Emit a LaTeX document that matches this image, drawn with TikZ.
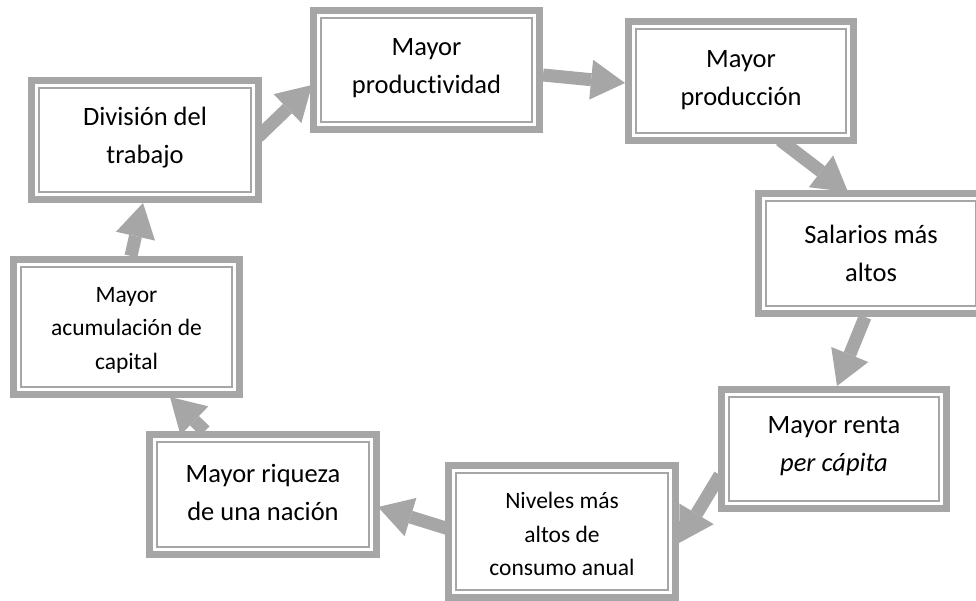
\documentclass[tikz,border=0pt]{standalone}
\usepackage{fontspec}
\setmainfont{Carlito}[RawFeature=-liga]
\usetikzlibrary{arrows.meta,calc}
\definecolor{framegray}{HTML}{A6A6A6}
\tikzset{
  frame/.style={rectangle, draw=framegray, line width=7pt, fill=white, outer sep=3.5pt, inner sep=0pt},
  innerframe/.style={draw=framegray, line width=2pt},
  conn/.style={draw=framegray, line width=13pt, -{Triangle[length=34pt,width=40pt,line width=0pt]}},
  bigtext/.style={font=\fontsize{26.5}{38}\selectfont, align=center, inner sep=0pt},
  smalltext/.style={font=\fontsize{23.5}{33.5}\selectfont, align=center, inner sep=0pt}
}
\begin{document}
\begin{tikzpicture}[x=1pt, y=-1pt]
\useasboundingbox (0,0) rectangle (976,601);
% box centres (px)
\coordinate (c1) at (145,140);
\coordinate (c2) at (426.5,70);
\coordinate (c3) at (741,81);
\coordinate (c4) at (871,253.5);
\coordinate (c5) at (834,449);
\coordinate (c6) at (562,531.5);
\coordinate (c7) at (263,494.5);
\coordinate (c8) at (126.5,327);
% reference nodes for connectors
\node[frame, draw=none, fill=none, minimum width=227pt, minimum height=119pt] (b1) at (c1) {};
\node[frame, draw=none, fill=none, minimum width=226pt, minimum height=119pt] (b2) at (c2) {};
\node[frame, draw=none, fill=none, minimum width=225pt, minimum height=119pt] (b3) at (c3) {};
\node[frame, draw=none, fill=none, minimum width=225pt, minimum height=120pt] (b4) at (c4) {};
\node[frame, draw=none, fill=none, minimum width=225pt, minimum height=119pt] (b5) at (c5) {};
\node[frame, draw=none, fill=none, minimum width=227pt, minimum height=132pt] (b6) at (c6) {};
\node[frame, draw=none, fill=none, minimum width=227pt, minimum height=120pt] (b7) at (c7) {};
\node[frame, draw=none, fill=none, minimum width=226pt, minimum height=135pt] (b8) at (c8) {};
% connectors
\draw[conn] ([shift={(-4,-3)}]b1.east) -- ([shift={(2,15)}]b2.west);
\draw[conn] ([shift={(0,5)}]b2.east) -- ([shift={(0,2)}]b3.west);
\draw[conn] ([shift={(39,-4)}]b3.south) -- ([shift={(-23,2)}]b4.north);
\draw[conn] ([shift={(-6,0)}]b4.south) -- ([shift={(3,0)}]b5.north);
\draw[conn] ([shift={(2,26)}]b5.west) -- ([shift={(0,11.5)}]b6.east);
\draw[conn] ([shift={(4,-2.5)}]b6.west) -- ([shift={(-2,12.5)}]b7.east);
\draw[conn] ([shift={(-58,0)}]b7.north) -- ([shift={(43.5,-1)}]b8.south);
\draw[conn] ([shift={(4.5,0)}]b8.north) -- ([shift={(-2,0)}]b1.south);
% visible frames
\foreach \n/\w/\h in {b1/227/119, b2/226/119, b3/225/119, b4/225/120, b5/225/119, b6/227/132, b7/227/120, b8/226/135}{
  \node[frame, minimum width=\w pt, minimum height=\h pt] at (\n.center) {};
  \draw[innerframe] ([shift={(11,11)}]\n.north west) rectangle ([shift={(-11,-11)}]\n.south east);
}
% texts
\node[bigtext] (t1) at ($(c1)+(0,-2)$) {División del\\trabajo};
\node[bigtext] (t2) at ($(c2)+(0,-2)$) {Mayor\\productividad};
\node[bigtext] (t3) at ($(c3)+(0,-1)$) {Mayor\\producción};
\node[bigtext] (t4) at ($(c4)+(0,-0.5)$) {Salarios más\\altos};
\node[bigtext] (t5) at ($(c5)+(0,-3)$) {Mayor renta\\\textit{per cápita}};
\node[smalltext] (t6) at ($(c6)+(0,2.5)$) {Niveles más\\altos de\\consumo anual};
\node[bigtext] (t7) at ($(c7)+(0,-2.5)$) {Mayor riqueza\\de una nación};
\node[smalltext] (t8) at ($(c8)+(0,3)$) {Mayor\\acumulación de\\capital};
\end{tikzpicture}
\end{document}
